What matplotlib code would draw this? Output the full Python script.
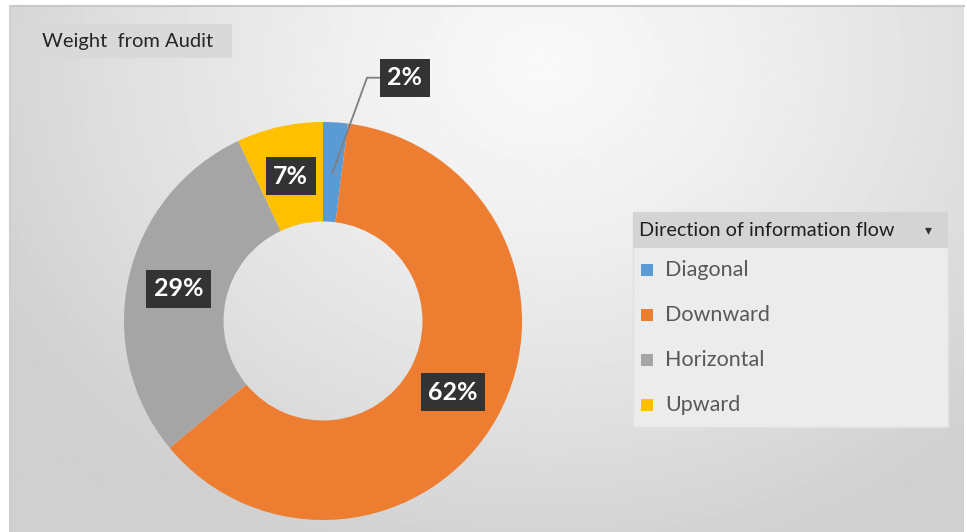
import numpy as np
import matplotlib
matplotlib.use("Agg")
import matplotlib.pyplot as plt
from matplotlib.patches import Rectangle

# data
categories = ["Diagonal", "Downward", "Horizontal", "Upward"]
shares = [2, 62, 29, 7]
colors = ["#5B9BD5", "#ED7D31", "#A5A5A5", "#FFC000"]
title = "Weight  from Audit"
legend_title = "Direction of information flow"

plt.rcParams["font.family"] = ["Lato", "DejaVu Sans"]

W, H = 967, 532
fig = plt.figure(figsize=(W / 100, H / 100), dpi=100)
fig.patch.set_facecolor("white")

# background panel in pixel coordinates
bg = fig.add_axes([0, 0, 1, 1])
bg.axis("off")

yy, xx = np.mgrid[0:H, 0:W]
d = np.sqrt(((xx - 540) / 620.0) ** 2 + ((yy - 60) / 520.0) ** 2)
shade = 0.975 - 0.16 * np.clip(d, 0, 1) ** 1.3
bg.imshow(shade, cmap="gray", vmin=0, vmax=1, extent=(10, W - 3, H, 6),
          interpolation="bilinear", zorder=0, aspect="auto")
bg.plot([10, W - 3], [6, 6], color="#c8c8c8", lw=1.5, zorder=1)
bg.plot([10, 10], [6, H], color="#cfcfcf", lw=1.5, zorder=1)
bg.set_xlim(0, W)
bg.set_ylim(H, 0)

# title box
bg.add_patch(Rectangle((32, 24), 200, 34, facecolor="#d9d9d9", edgecolor="none", zorder=2))
bg.text(42, 42, title, fontsize=14.5, color="#262626", va="center", ha="left", zorder=3)

# legend box
lx, ly, lw_, lh = 633, 212, 315, 215
bg.add_patch(Rectangle((lx, ly), lw_, lh, facecolor="#ececec", edgecolor="#e0e0e0", zorder=2))
bg.add_patch(Rectangle((lx, ly), lw_, 36, facecolor="#d4d4d4", edgecolor="none", zorder=2))
bg.text(lx + 6, ly + 18, legend_title, fontsize=14.3, color="#1f1f1f", va="center", zorder=3)
bg.text(lx + 295, ly + 18, "\u25BE", fontsize=10, color="#333333", va="center", ha="center",
        family=["DejaVu Sans"], zorder=3)
for i, (name, c) in enumerate(zip(categories, colors)):
    yc = 270 + i * 45
    bg.add_patch(Rectangle((lx + 8, yc - 6), 12, 12, facecolor=c, edgecolor="none", zorder=3))
    bg.text(lx + 32, yc, name, fontsize=15.5, color="#595959", va="center", zorder=3)

# donut
cx, cy, R = 323, 321, 199
pie_ax = fig.add_axes([(cx - 200) / W, (H - cy - 200) / H, 400 / W, 400 / H])
wedges, _ = pie_ax.pie(shares, colors=colors, startangle=90, counterclock=False,
                       radius=R / 200, wedgeprops=dict(width=0.5 * R / 200, edgecolor="none"))
pie_ax.set_xlim(-1, 1)
pie_ax.set_ylim(-1, 1)
pie_ax.set_aspect("equal")

box = dict(boxstyle="square,pad=0.3", facecolor="#333333", edgecolor="none")
for w, s in zip(wedges, shares):
    mid = np.deg2rad((w.theta1 + w.theta2) / 2)
    r = 0.745 * R / 200
    x, y = r * np.cos(mid), r * np.sin(mid)
    if s < 5:
        tx, ty = 1.29 * R / 200 * np.cos(np.deg2rad(71.4)), 1.29 * R / 200 * np.sin(np.deg2rad(71.4))
        pie_ax.annotate(f"{s}%", xy=(x, y), xytext=(tx, ty), fontsize=18, fontweight="bold",
                        color="white", ha="center", va="center", bbox=box,
                        arrowprops=dict(arrowstyle="-", color="#7f7f7f", lw=1.3,
                                        connectionstyle="angle,angleA=0,angleB=70,rad=0",
                                        shrinkA=0, shrinkB=0),
                        annotation_clip=False)
    else:
        pie_ax.text(x, y, f"{s}%", fontsize=18, fontweight="bold", color="white",
                    ha="center", va="center", bbox=box)

fig.savefig("out.png", dpi=100)
